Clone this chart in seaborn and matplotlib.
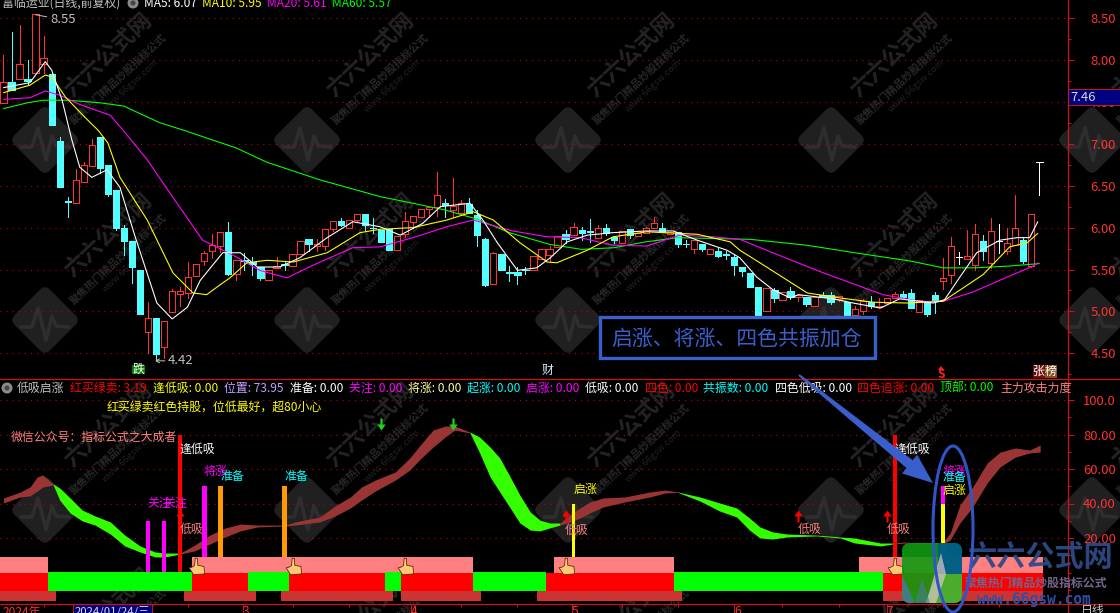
import numpy as np
import pandas as pd
import seaborn as sns
import matplotlib
matplotlib.use("Agg")
import matplotlib.pyplot as plt
from matplotlib.patches import FancyBboxPatch, Rectangle, Ellipse, Circle, Polygon
from matplotlib.path import Path
from matplotlib.transforms import Affine2D

# daily candles
open_ = [7.49, 7.74, 7.77, 7.77, 7.85, 7.95, 7.83, 7.03, 6.32, 6.29,
         6.54, 6.73, 7.08, 6.75, 6.45, 5.99, 5.84, 5.49, 4.75, 4.92,
         4.57, 4.99, 5.21, 5.22, 5.42, 5.60, 5.72, 5.78, 5.95, 5.45,
         5.61, 5.59, 5.53, 5.37, 5.52, 5.56, 5.54, 5.68, 5.86, 5.78,
         5.78, 5.98, 6.08, 5.99, 6.09, 6.16, 6.00, 5.97, 5.98, 5.73,
         5.92, 6.07, 6.13, 6.22, 6.24, 6.29, 6.21, 6.17, 6.28, 6.15,
         5.86, 5.33, 5.68, 5.47, 5.47, 5.50, 5.49, 5.63, 5.67, 5.77,
         5.92, 5.91, 5.97, 5.96, 5.88, 5.99, 5.89, 5.82, 5.98, 5.90,
         5.93, 5.99, 5.99, 5.92, 5.95, 5.81, 5.74, 5.80, 5.68, 5.72,
         5.68, 5.65, 5.53, 5.46, 5.29, 5.00, 5.26, 5.14, 5.24, 5.17,
         5.17, 5.06, 5.20, 5.19, 5.15, 5.11, 4.96, 5.00, 5.11, 5.05,
         5.10, 5.16, 5.21, 5.22, 4.99, 5.11, 5.19, 5.36, 5.43, 5.65,
         5.63, 5.55, 5.84, 5.58, 5.84, 5.72, 5.79, 5.85, 5.54, 6.78]
high = [8.06, 8.33, 8.42, 8.00, 8.55, 8.29, 7.85, 7.08, 6.36, 6.70,
        6.78, 7.06, 7.08, 6.75, 6.45, 6.03, 5.84, 5.49, 5.11, 4.92,
        4.89, 5.27, 5.29, 5.59, 5.57, 5.72, 5.92, 5.95, 6.07, 5.61,
        5.70, 5.65, 5.53, 5.50, 5.65, 5.59, 5.68, 5.84, 5.86, 5.86,
        5.98, 6.08, 6.11, 6.09, 6.16, 6.16, 6.11, 5.97, 5.98, 5.90,
        6.19, 6.14, 6.22, 6.24, 6.66, 6.34, 6.59, 6.33, 6.35, 6.21,
        5.87, 5.71, 5.68, 5.54, 5.53, 5.53, 5.66, 5.74, 5.78, 5.90,
        5.97, 6.05, 6.01, 6.10, 6.03, 6.04, 5.90, 5.96, 5.98, 5.93,
        6.01, 6.13, 6.05, 5.95, 5.95, 5.85, 5.85, 5.80, 5.74, 5.76,
        5.72, 5.68, 5.53, 5.46, 5.29, 5.28, 5.28, 5.23, 5.29, 5.19,
        5.17, 5.17, 5.23, 5.23, 5.18, 5.11, 5.07, 5.15, 5.18, 5.16,
        5.16, 5.23, 5.24, 5.27, 5.14, 5.11, 5.23, 5.64, 5.89, 5.71,
        5.97, 6.04, 5.91, 6.11, 6.04, 6.00, 6.39, 5.89, 6.16, 6.78]
low = [7.49, 7.64, 7.77, 7.70, 7.85, 7.85, 7.22, 6.48, 6.13, 6.29,
       6.54, 6.73, 6.65, 6.38, 5.97, 5.67, 5.34, 4.97, 4.50, 4.42,
       4.44, 4.99, 5.06, 5.16, 5.42, 5.55, 5.64, 5.71, 5.44, 5.37,
       5.50, 5.43, 5.37, 5.37, 5.52, 5.50, 5.54, 5.68, 5.72, 5.72,
       5.73, 5.96, 6.02, 5.99, 6.07, 5.97, 5.94, 5.83, 5.73, 5.73,
       5.89, 5.99, 6.13, 6.13, 6.14, 6.13, 6.13, 6.15, 6.17, 5.78,
       5.30, 5.33, 5.50, 5.36, 5.33, 5.45, 5.49, 5.63, 5.59, 5.77,
       5.82, 5.91, 5.85, 5.83, 5.88, 5.91, 5.82, 5.82, 5.88, 5.90,
       5.93, 5.99, 5.95, 5.92, 5.77, 5.77, 5.70, 5.72, 5.68, 5.65,
       5.63, 5.44, 5.42, 5.29, 4.90, 5.00, 5.11, 5.14, 5.15, 5.12,
       5.06, 5.06, 5.17, 5.09, 5.12, 4.90, 4.96, 4.97, 5.04, 5.04,
       5.10, 5.16, 5.17, 5.04, 4.99, 4.94, 4.98, 5.27, 5.34, 5.57,
       5.62, 5.49, 5.61, 5.52, 5.70, 5.68, 5.79, 5.58, 5.53, 6.39]
close = [7.74, 7.64, 7.95, 7.75, 8.55, 8.02, 7.22, 6.48, 6.31, 6.57,
         6.75, 6.99, 6.71, 6.40, 5.99, 5.84, 5.53, 4.97, 4.92, 4.49,
         4.89, 5.24, 5.24, 5.41, 5.57, 5.70, 5.79, 5.95, 5.45, 5.61,
         5.60, 5.56, 5.40, 5.50, 5.54, 5.55, 5.68, 5.84, 5.80, 5.80,
         5.98, 6.08, 6.03, 6.09, 6.16, 6.03, 5.99, 5.83, 5.73, 5.90,
         6.08, 6.14, 6.22, 6.24, 6.39, 6.27, 6.26, 6.29, 6.17, 5.91,
         5.31, 5.70, 5.50, 5.46, 5.43, 5.49, 5.66, 5.74, 5.74, 5.90,
         5.86, 6.01, 5.93, 5.95, 5.99, 5.93, 5.85, 5.96, 5.91, 5.93,
         5.99, 6.05, 5.95, 5.95, 5.80, 5.80, 5.85, 5.74, 5.74, 5.66,
         5.67, 5.55, 5.48, 5.29, 4.93, 5.28, 5.16, 5.23, 5.17, 5.19,
         5.09, 5.17, 5.17, 5.11, 5.18, 4.93, 5.03, 5.12, 5.06, 5.07,
         5.16, 5.21, 5.17, 5.04, 5.14, 4.97, 5.14, 5.40, 5.78, 5.65,
         5.66, 5.92, 5.72, 5.96, 5.84, 5.82, 6.00, 5.60, 6.16, 6.78]

ma5_days = [0, 3.3, 5.2, 6.0, 7.3, 8.5, 9.5, 11.0, 12.9, 14.5, 16.4, 19.1, 21.0, 22.9, 24.5, 27.3, 29.5, 31.6,
            34.4, 36.9, 40.3, 43.5, 46.9, 49.4, 52.2, 54.4, 58.1, 59.7, 61.5, 64.0, 66.4, 68.1, 70.2, 72.7,
            75.9, 80.1, 83.4, 86.4, 90.1, 91.7, 93.8, 95.8, 98.0, 99.0, 103.3, 105.8, 109.2, 111.6, 115.8,
            117.2, 119.1, 121.2, 124.1, 126.2, 127.8, 128.8]
ma5 = [7.67, 7.73, 7.98, 7.88, 7.52, 7.05, 6.72, 6.60, 6.69, 6.48, 5.89, 5.10, 4.91, 5.05, 5.37, 5.70, 5.70, 5.53,
       5.53, 5.64, 5.88, 6.07, 6.01, 5.91, 6.05, 6.25, 6.29, 6.09, 5.82, 5.49, 5.52, 5.64, 5.83, 5.91,
       5.94, 5.96, 5.96, 5.85, 5.73, 5.64, 5.41, 5.26, 5.16, 5.20, 5.15, 5.10, 5.04, 5.15, 5.10,
       5.14, 5.41, 5.70, 5.85, 5.88, 5.88, 6.07]
ma10_days = [0, 3.3, 5.2, 6.0, 7.7, 10.1, 11.8, 13.0, 14.5, 17.9, 21.1, 23.6, 25.3, 27.3, 28.2, 30.3, 32.8, 36.1,
             40.3, 44.4, 46.9, 51.0, 55.2, 58.5, 61.0, 64.3, 67.7, 68.9, 72.7, 75.9, 80.1, 86.4, 90.5, 91.7,
             94.2, 100.1, 104.2, 108.3, 112.5, 117.0, 122.0, 125.3, 127.5, 128.8]
ma10 = [7.61, 7.70, 7.82, 7.80, 7.56, 7.32, 7.16, 7.01, 6.60, 6.09, 5.46, 5.22, 5.20, 5.34, 5.40, 5.58, 5.61, 5.59,
        5.70, 5.94, 5.98, 6.00, 6.09, 6.19, 6.09, 5.82, 5.59, 5.58, 5.73, 5.89, 5.95, 5.92, 5.83, 5.73,
        5.58, 5.22, 5.16, 5.11, 5.10, 5.12, 5.44, 5.77, 5.82, 5.93]
ma20_days = [0, 3.3, 5.2, 7.0, 9.5, 13.3, 14.9, 17.9, 21.1, 24.8, 28.6, 31.9, 35.3, 38.5, 43.5, 46.9, 51.0, 55.2,
             58.5, 63.4, 67.7, 71.8, 75.9, 80.1, 84.2, 88.4, 91.7, 97.1, 102.1, 109.5, 114.1, 117.0, 120.7,
             125.0, 128.2, 128.8]
ma20 = [7.53, 7.55, 7.63, 7.58, 7.47, 7.34, 7.16, 6.81, 6.36, 5.85, 5.67, 5.49, 5.40, 5.55, 5.76, 5.77, 5.88, 6.01,
        6.09, 5.96, 5.89, 5.88, 5.79, 5.78, 5.91, 5.89, 5.86, 5.65, 5.46, 5.20, 5.12, 5.12, 5.23,
        5.41, 5.54, 5.58]
ma60_days = [0, 3, 5, 8, 12, 15, 16.1, 19.5, 22.5, 29, 32.8, 39.4, 46.9, 51, 55, 59, 63, 68, 72, 76, 80, 84, 93,
             100, 106, 113, 117, 121, 125, 129]
ma60 = [7.42, 7.49, 7.52, 7.52, 7.49, 7.45, 7.40, 7.25, 7.16, 6.95, 6.78, 6.57, 6.37, 6.29, 6.21, 6.10, 5.94, 5.80,
        5.74, 5.76, 5.83, 5.88, 5.86, 5.79, 5.70, 5.60, 5.52, 5.52, 5.54, 5.57]

# indicator ribbon, changes colour at the turn days
ribbon_days = [0, 2.1, 3.3, 4.2, 4.9, 6.2,
               7.0, 8.3, 9.8, 11.4, 13.3, 15.1, 17.0, 18.9, 20.1, 22.0,
               23.8, 25.7, 27.6, 29.5, 31.6, 35.1, 36.3, 39.4, 41.3, 43.2, 44.6, 46.3, 48.8, 50.6, 51.9, 53.5,
               55.0, 56.2, 58.1,
               59.3, 60.6, 61.8, 63.1, 64.3, 65.6, 66.8, 68.0, 69.3,
               70.5, 71.8, 73.0, 74.7, 77.4, 80.5, 82.4, 84.0,
               86.7, 89.2, 91.3, 92.9, 94.2, 95.8, 97.6, 101.3, 104.2, 106.0, 109.2, 110.8,
               112.3, 113.8, 116.9,
               117.9, 119.1, 120.7, 122.5, 124.1, 126.0, 127.8, 129.1]
ribbon_hi = [43.2, 46.7, 49.6, 55.4, 56.5, 51.3,
             49.0, 43.2, 36.2, 32.8, 29.3, 21.7, 15.4, 11.9, 11.3, 11.3,
             15.9, 21.7, 25.8, 28.1, 27.5, 27.5, 29.3, 32.2, 38.6, 43.8, 49.6, 53.6, 58.3, 66.4, 73.9, 82.6,
             84.9, 84.9, 81.4,
             78.5, 72.7, 66.4, 55.4, 44.9, 35.1, 30.4, 28.7, 28.7,
             33.3, 37.4, 40.9, 43.2, 43.8, 46.7, 47.8, 46.7,
             43.8, 40.3, 37.4, 31.6, 26.4, 23.5, 22.3, 21.7, 20.6, 20.0, 17.1, 17.1,
             17.7, 17.1, 17.1,
             22.9, 39.1, 49.6, 63.5, 69.8, 72.2, 71.0, 73.9]
ribbon_lo = [40.3, 43.8, 44.4, 47.2, 49.6, 50.7,
             42.0, 34.5, 29.9, 27.5, 22.3, 15.4, 11.9, 9.0, 9.0, 10.7,
             12.5, 16.5, 20.6, 24.1, 26.4, 27.0, 27.5, 29.3, 32.8, 37.4, 42.0, 47.2, 53.6, 59.4, 65.8, 72.7,
             78.5, 82.6, 80.9,
             69.3, 55.4, 46.7, 37.4, 28.7, 24.6, 24.1, 25.8, 27.5,
             29.3, 31.6, 34.5, 38.0, 40.9, 43.8, 46.1, 46.4,
             41.5, 35.6, 32.2, 24.6, 20.0, 19.4, 20.6, 21.2, 20.0, 17.1, 15.4, 16.5,
             17.1, 16.8, 16.5,
             18.8, 28.7, 38.0, 51.9, 61.2, 66.9, 69.3, 69.8]
turn_days = [0, 6.2, 22.0, 58.1, 69.3, 84.0, 110.8, 113.8, 116.9, 129.1]

# signal bars
bar_days = [18, 20, 22, 25, 27, 35, 71, 111, 117, 117]
bar_tops = [30, 30, 80, 50, 50, 50, 40, 80, 50, 40]
bar_bases = [0, 0, 0, 0, 0, 0, 0, 0, 40, 0]
bar_colors = ['#ff00ff', '#ff00ff', '#ff0000', '#ff00ff', '#ff9a00', '#ff9a00', '#ffff00', '#ff0000', '#ff00ff',
              '#ffff00']
bar_px = [3.4, 3.4, 3.4, 5, 5, 5, 3.4, 3.4, 4, 4]

red_arrow_days = [22, 70, 99, 110]
green_arrow_days = [47, 56]
hand_days = [24, 36, 50, 70, 111, 117]

# bottom bands, edges in days
pink_runs = [(-1, 6), (24, 59), (69, 84), (107, 130)]
red_runs = [(-1, 6), (24, 31), (36, 48), (50, 59), (68, 84), (110, 130)]
green_runs = [(6, 24), (31, 36), (48, 50), (59, 68), (84, 110)]
dark_runs = [(-1, 7), (23, 32), (35, 49), (50, 60), (67, 85), (110, 130)]

# text labels on the indicator: day, value, text, colour
signal_labels = [(18, 40.3, '关注', '#ff00ff'), (20, 40.3, '关注', '#ff00ff'), (22, 71.6, '逢低吸', '#ffffff'),
                 (22, 25.2, '低吸', '#ff8080'), (25, 58.3, '将涨', '#ff00ff'), (27, 55.4, '准备', '#00ffff'),
                 (35, 55.4, '准备', '#00ffff'), (71, 48.4, '启涨', '#ffff00'), (70, 24.6, '低吸', '#ff8080'),
                 (99, 25.2, '低吸', '#ff8080'), (110, 25.2, '低吸', '#ff8080'), (111, 71.6, '逢低吸', '#ffffff'),
                 (117, 58.3, '将涨', '#ff00ff'), (117, 54.8, '准备', '#00ffff'), (117, 47.8, '启涨', '#ffff00')]

header_top = [(2, '富临运业(日线,前复权)', '#c0c0c0'), (144, 'MA5: 6.07', '#ffffff'), (202, 'MA10: 5.95', '#ffff00'),
              (267, 'MA20: 5.61', '#ff00ff'), (332, 'MA60: 5.57', '#00ff00')]
header_ind = [(17, '低吸启涨', '#c0c0c0'), (70, '红买绿卖: 3.19', '#ff0000'), (153, '逢低吸: 0.00', '#ffff00'),
              (224, '位置: 73.95', '#c0a0ff'), (290, '准备: 0.00', '#ffffff'), (349, '关注: 0.00', '#ff00ff'),
              (408, '将涨: 0.00', '#ffffa0'), (467, '起涨: 0.00', '#00ffff'), (526, '启涨: 0.00', '#ff00ff'),
              (585, '低吸: 0.00', '#ffffff'), (645, '四色: 0.00', '#ff0000'), (703, '共振数: 0.00', '#00ffff'),
              (775, '四色低吸: 0.00', '#ffffff'), (857, '四色追涨: 0.00', '#ff0000'), (940, '顶部: 0.00', '#00ff00'),
              (1000, '主力攻击力度', '#ff8080')]

price_ticks = [8.5, 8.0, 7.5, 7.0, 6.5, 6.0, 5.5, 5.0, 4.5]
ind_ticks = [100, 80, 60, 40, 20]
ind_tick_labels = ['100.0', '80.00', '60.00', '40.00', '20.00']
month_days = [29.8, 50.7, 70.8, 91, 110]
month_labels = ['3', '4', '5', '6', '7']

RED = '#ff3232'
AXIS_RED = '#c81414'
CYAN = '#54ffff'
GRID = '#c00000'
BROWN = '#993535'
GREEN = '#33ff00'
BLUE = '#3a5fcd'
CJK = ['Noto Sans CJK SC', 'DejaVu Sans']
PX = 0.72  # one pixel in points at dpi 100
W, H = 1120, 613
DAY = 8.03

sns.set_theme(style='dark', rc={'figure.facecolor': 'black', 'axes.facecolor': 'black',
                                'axes.grid': False, 'text.color': 'white'})
plt.rcParams['font.family'] = CJK


def panel(fig, top, bottom):
    ax = fig.add_axes([0, 1 - bottom / H, 1068 / W, (bottom - top) / H], zorder=2)
    ax.patch.set_visible(False)
    ax.set_xlim(-3.5 / DAY, (1068 - 3.5) / DAY)
    for s in ax.spines.values():
        s.set_visible(False)
    ax.yaxis.tick_right()
    ax.tick_params(axis='y', which='major', colors=RED, color=AXIS_RED, length=6 * PX, width=PX, labelsize=9.4,
                   right=True)
    ax.tick_params(axis='y', which='minor', color=AXIS_RED, length=3 * PX, width=PX, right=True)
    ax.grid(True, axis='y', which='major', color=GRID, linewidth=0.8, linestyle=(0, (1, 4.5)))
    ax.set_axisbelow(True)
    return ax


def watermark(ax, cx, cy):
    rot = Affine2D().rotate_deg_around(cx, cy, 45) + ax.transData
    ax.add_patch(FancyBboxPatch((cx - 21, cy - 21), 42, 42, boxstyle='round,pad=4,rounding_size=7', fc='#202020',
                                ec='none', transform=rot, zorder=1))
    ax.plot([cx - 24, cx - 13, cx - 7, cx + 1, cx + 7, cx + 11, cx + 24],
            [cy + 7, cy + 7, cy - 12, cy + 20, cy - 4, cy + 6, cy + 7], color='#2e2e2e', lw=2.6, zorder=1)
    ax.text(cx + 63, cy - 85, '六六公式网', color='#242424', fontsize=16, fontweight='bold', rotation=43,
            ha='center', va='center', zorder=1)
    ax.text(cx + 73, cy - 61, '聚焦热门精品炒股指标公式', color='#282828', fontsize=7.7, fontweight='bold', rotation=43,
            ha='center', va='center', zorder=1)
    ax.text(cx + 85, cy - 54, 'www.66gsw.com', color='#222222', fontsize=6.6, rotation=43,
            ha='center', va='center', zorder=1)


fig = plt.figure(figsize=(W / 100, H / 100), dpi=100, facecolor='black')

# background with the repeated watermark, in pixels
ax_bg = fig.add_axes([0, 0, 1, 1], zorder=0)
ax_bg.set_xlim(0, W)
ax_bg.set_ylim(H, 0)
ax_bg.set_facecolor('black')
ax_bg.axis('off')
for wy in [-45, 140, 320, 510, 695]:
    for wx in [45, 307, 568, 831, 1092]:
        watermark(ax_bg, wx, wy)

# price panel
ax = panel(fig, 0, 379)
ax.set_ylim(8.716 - 0.011933 * 379, 8.716)
days = np.arange(len(close))
candles = pd.DataFrame({'day': days, 'open': open_, 'high': high, 'low': low, 'close': close})
up = candles[candles.close > candles.open]
down = candles[candles.close < candles.open]
flat = candles[candles.close == candles.open]
width = 6.3 / DAY

ax.vlines(up.day, up.low, up.open, color=RED, lw=PX, antialiased=False, zorder=3)
ax.vlines(up.day, up.close, up.high, color=RED, lw=PX, antialiased=False, zorder=3)
ax.bar(up.day, up.close - up.open, bottom=up.open, width=width, facecolor='black', edgecolor=RED, linewidth=PX,
       antialiased=False, zorder=3)
ax.vlines(down.day, down.low, down.high, color=CYAN, lw=PX, antialiased=False, zorder=3)
ax.bar(down.day, down.close - down.open, bottom=down.open, width=width, color=CYAN, edgecolor=CYAN, linewidth=PX,
       antialiased=False, zorder=3)
ax.vlines(flat.day, flat.low, flat.high, color='white', lw=PX, antialiased=False, zorder=3)
ax.hlines(flat.close, flat.day - width / 2, flat.day + width / 2, color='white', lw=PX, antialiased=False, zorder=3)

for name, xs, ys, col in [('ma60', ma60_days, ma60, '#00ff00'), ('ma20', ma20_days, ma20, '#ff00ff'),
                          ('ma10', ma10_days, ma10, '#ffff00'), ('ma5', ma5_days, ma5, '#ffffff')]:
    sns.lineplot(data=pd.DataFrame({'day': xs, name: ys}), x='day', y=name, color=col, linewidth=PX * 1.1,
                 estimator=None, legend=False, ax=ax, zorder=4)
ax.set_xlabel('')
ax.set_ylabel('')
ax.set_xticks([])
ax.set_yticks(price_ticks)
ax.set_yticklabels(['{:.2f}'.format(t) for t in price_ticks])
ax.set_yticks([8.25, 7.75, 7.25, 6.75, 6.25, 5.75, 5.25, 4.75, 4.25], minor=True)
ax.tick_params(axis='y', which='major', pad=12)
ax.annotate('8.55', xy=(4.0, 8.54), xytext=(5.8, 8.48), color='#c0c0c0', fontsize=9.4, va='center',
            arrowprops=dict(arrowstyle='-', color='#c0c0c0', lw=PX, shrinkA=0, shrinkB=0), zorder=5)
ax.annotate('4.42', xy=(18.9, 4.41), xytext=(20.5, 4.41), color='#c0c0c0', fontsize=9.4, va='center',
            arrowprops=dict(arrowstyle='->,head_length=0.25,head_width=0.15', color='#c0c0c0', lw=PX, shrinkA=0,
                            shrinkB=0), zorder=5)

# indicator panel
ax2 = panel(fig, 379, 604)
ax2.set_ylim(100 - (604 - 400) / 1.725, 100 - (379 - 400) / 1.725)
r_days = np.array(ribbon_days)
r_hi = np.array(ribbon_hi)
r_lo = np.array(ribbon_lo)
for k in range(len(turn_days) - 1):
    mask = (r_days >= turn_days[k]) & (r_days <= turn_days[k + 1])
    ax2.fill_between(r_days[mask], r_lo[mask], r_hi[mask], color=BROWN if k % 2 == 0 else GREEN, linewidth=0,
                     zorder=3)
for d, t, base, col, w in zip(bar_days, bar_tops, bar_bases, bar_colors, bar_px):
    ax2.bar(d, t - base, bottom=base, width=w / DAY, color=col, linewidth=0, antialiased=False, zorder=4)

edge = -0.5
ax2.broken_barh([(a + edge, b - a) for a, b in pink_runs], (0, 8.7), color='#ff8080', linewidth=0, zorder=5)
ax2.broken_barh([(a + edge, b - a) for a, b in red_runs], (-10.5, 10.5), color='#ff0000', linewidth=0, zorder=5)
ax2.broken_barh([(a + edge, b - a) for a, b in green_runs], (-10.5, 11), color='#00ff00', linewidth=0, zorder=5)
ax2.broken_barh([(a + edge, b - a) for a, b in dark_runs], (-16.5, 6), color='#cc3333', linewidth=0, zorder=4.5)

up_arrow = Path([(-0.18, -1), (0.18, -1), (0.18, 0), (0.7, 0), (0, 1), (-0.7, 0), (-0.18, 0), (-0.18, -1)])
down_arrow = Path([(-0.18, 1), (0.18, 1), (0.18, 0), (0.7, 0), (0, -1), (-0.7, 0), (-0.18, 0), (-0.18, 1)])
hand = Path([(-0.15, 1), (0.12, 1), (0.15, 0.15), (0.9, 0), (1, -0.9), (-0.35, -1), (-0.9, -0.15), (-0.6, -0.1),
             (-0.25, 0.1), (-0.15, 1)])
ax2.scatter(red_arrow_days, [33] * len(red_arrow_days), marker=up_arrow, s=75, color='#ff0000', linewidth=0,
            zorder=6)
ax2.scatter(green_arrow_days, [86] * len(green_arrow_days), marker=down_arrow, s=75, color='#20d020', linewidth=0,
            zorder=6)
ax2.scatter(hand_days, [3.8] * len(hand_days), marker=hand, s=140, facecolor='#ffc878', edgecolor='#5a3000',
            linewidth=0.6, zorder=6)
for d, v, s, col in signal_labels:
    ax2.text(d - 0.05, v, s, color=col, fontsize=8.6, ha='left', va='center', zorder=7)

ax2.set_yticks(ind_ticks)
ax2.set_yticklabels(ind_tick_labels)
ax2.set_yticks([110, 90, 70, 50, 30, 10, 0, -10], minor=True)
ax2.tick_params(axis='y', which='major', pad=6.5)
ax2.set_xticks(month_days)
ax2.set_xticklabels(month_labels, ha='left', color=RED, fontsize=8.6)
ax2.set_xticks([5, 11, 17, 23, 36, 43, 57, 64, 77, 84, 97, 104, 117, 124], minor=True)
ax2.tick_params(axis='x', which='major', color=AXIS_RED, length=9 * PX, width=PX, bottom=True, pad=-6)
ax2.tick_params(axis='x', which='minor', color=AXIS_RED, length=3 * PX, width=PX, bottom=True)

# overlay in pixels: frame, headers, callouts, logo
top = fig.add_axes([0, 0, 1, 1], zorder=5)
top.patch.set_visible(False)
top.set_xlim(0, W)
top.set_ylim(H, 0)
top.axis('off')


def label(x, y, s, color, size=8.6, **kw):
    # y is the middle of the text line, a common baseline keeps mixed glyphs level
    kw.setdefault('ha', 'left')
    return top.text(x, y + size * 0.46, s, color=color, fontsize=size, va='baseline', **kw)


top.plot([0, W], [379, 379], color=AXIS_RED, lw=PX * 1.3)
top.plot([0, W], [604, 604], color=AXIS_RED, lw=PX * 1.3)
top.plot([1068, 1068], [0, H], color=AXIS_RED, lw=PX * 1.3)

for x, s, col in header_top:
    label(x, 3, s, col)
for x, s, col in header_ind:
    t = label(x, 388, s, col)
    t.set_clip_path(Rectangle((0, 380), 1067, 20, transform=top.transData))
for cx, cy in [(133, 3), (7, 388)]:
    top.add_patch(Circle((cx, cy), 5.5, fc='#8a8a8a', ec='none'))
    top.add_patch(Circle((cx, cy), 2.5, fc='#444444', ec='none'))

label(107, 407, '红买绿卖红色持股，位低最好，超80小心', '#ffff00')
label(11, 437, '微信公众号：指标公式之大成者', '#ff8080')

# price box on the axis
top.add_patch(Rectangle((1068, 89), 52, 16, fc='#000080', ec=AXIS_RED, lw=PX, zorder=6))
label(1070, 97, '7.46', '#d8d8d8', size=9.4, zorder=7)

# event marks under the candles
top.add_patch(Rectangle((132, 365), 13, 9, fc='#008000', ec='none'))
label(138.5, 369, '跌', '#ffffff', ha='center')
label(548, 370, '财', '#d8e8ff', ha='center')
top.add_patch(Polygon([(941, 366), (944, 370), (938, 370)], fc='#ff2020', ec='none'))
label(941, 374, 'S', '#ff2020', size=8.6, ha='center', fontweight='bold')
top.add_patch(Rectangle((1033, 365), 12, 13, fc='#701010', ec='none'))
top.add_patch(Rectangle((1045, 365), 12, 13, fc='#805020', ec='none'))
label(1039, 371, '张', '#ffffff', ha='center')
label(1051, 371, '榜', '#ffffff', ha='center')

# date bar
label(3, 612, '2024年', RED)
top.add_patch(Rectangle((73, 604), 79, 12, fc='#000080', ec=AXIS_RED, lw=PX))
label(75, 612, '2024/01/24/三', '#d8d8d8', size=8.2)
label(1081, 610, '日线', '#c8c8c8')

# callout box and arrow
top.add_patch(Rectangle((600, 317), 275, 41, fc='black', ec=BLUE, lw=2.4, zorder=4))
label(736, 338, '启涨、将涨、四色共振加仓', BLUE, size=15, ha='center', zorder=5)
a0 = np.array([799.0, 375.0])
a1 = np.array([933.0, 483.0])
along = (a1 - a0) / np.hypot(*(a1 - a0))
norm = np.array([-along[1], along[0]])
neck = a1 - along * 30
top.add_patch(Polygon([a0 + norm, neck + norm * 5, neck + norm * 12, a1, neck - norm * 12, neck - norm * 5,
                       a0 - norm], fc=BLUE, ec='none', zorder=4))

# logo, semi transparent over the bands
base = FancyBboxPatch((902, 543), 60, 60, boxstyle='round,pad=0,rounding_size=8', fc='#109a10', ec='none',
                      alpha=0.9, zorder=6)
top.add_patch(base)
for pts, col, alpha in [([(938, 543), (962, 543), (962, 574), (938, 574)], '#005a90', 0.9),
                        ([(938, 574), (962, 574), (962, 603), (925, 603)], '#50b030', 0.9),
                        ([(926, 603), (941, 553), (946, 574), (936, 603)], '#e0c8c8', 0.7),
                        ([(902, 575), (915, 603), (902, 603)], '#4a7a9a', 0.8),
                        ([(915, 603), (922, 578), (930, 603)], '#4a7a9a', 0.6)]:
    p = Polygon(pts, fc=col, ec='none', alpha=alpha, zorder=6)
    top.add_patch(p)
    p.set_clip_path(base)
label(1040, 556, '六六公式网', '#2e4a86', size=21, ha='center', fontweight='bold', alpha=0.95, zorder=6)
label(1036, 583, '聚焦热门精品炒股指标公式', '#75658a', size=8.6, ha='center', fontweight='bold', zorder=6)
label(1034, 599, 'www.66gsw.com', '#2c50a8', size=10.5, ha='center', fontweight='bold', zorder=6,
      fontfamily='DejaVu Sans Mono')

top.add_patch(Ellipse((953, 529), 40, 166, fc='none', ec='#2f55c8', lw=2.2, zorder=7))

fig.savefig('out.png', dpi=100, facecolor='black')
